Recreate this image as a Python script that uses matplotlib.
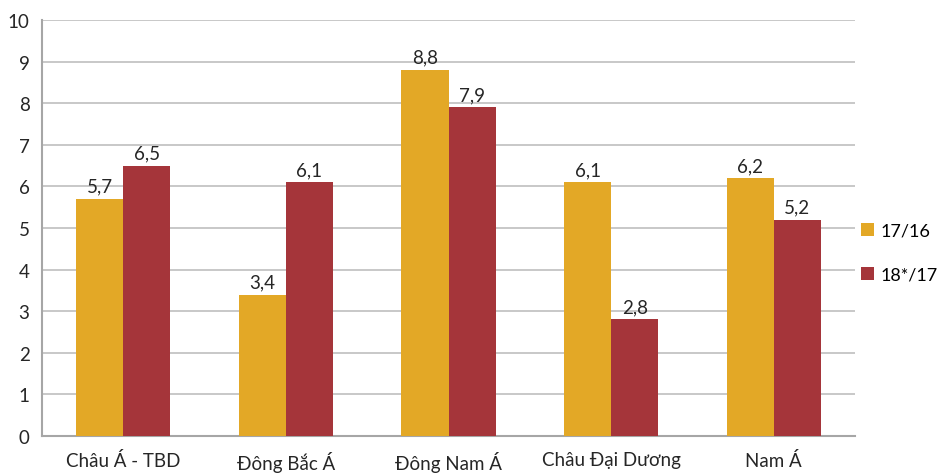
import matplotlib
matplotlib.use("Agg")
import matplotlib.pyplot as plt
import numpy as np

plt.rcParams['font.family'] = ['Lato', 'DejaVu Sans']

categories = ["Châu Á - TBD", "Đông Bắc Á", "Đông Nam Á", "Châu Đại Dương", "Nam Á"]
s1_name = "17/16"
s2_name = "18*/17"
s1 = [5.7, 3.4, 8.8, 6.1, 6.2]
s2 = [6.5, 6.1, 7.9, 2.8, 5.2]

c1 = "#E3A826"
c2 = "#A5353A"

fig = plt.figure(figsize=(9.4, 4.77), dpi=100)
ax = fig.add_axes([0.0447, 0.084, 0.865, 0.872])

x = np.arange(len(categories))
w = 0.29
b1 = ax.bar(x - w/2, s1, w, color=c1, label=s1_name, zorder=3)
b2 = ax.bar(x + w/2, s2, w, color=c2, label=s2_name, zorder=3)

fs = 13.5
fmt = lambda v: f"{v:.1f}".replace(".", ",")
for bars, vals in ((b1, s1), (b2, s2)):
    for r, v in zip(bars, vals):
        ax.annotate(fmt(v), (r.get_x() + r.get_width()/2, v), xytext=(0, 3),
                    textcoords="offset points", ha="center", va="bottom",
                    fontsize=fs, color="#262626")

ax.set_xlim(-0.5, 4.5)
ax.set_ylim(0, 10)
ax.set_yticks(range(0, 11))
ax.set_xticks(x)
ax.set_xticklabels(categories)
ax.tick_params(axis='both', length=0, labelsize=fs, colors="#262626")
ax.tick_params(axis='x', pad=11)
ax.tick_params(axis='y', pad=9)
ax.yaxis.grid(True, color="#BFBFBF", linewidth=1.2, zorder=0)
for s in ("top", "right"):
    ax.spines[s].set_visible(False)
for s in ("left", "bottom"):
    ax.spines[s].set_color("#A6A6A6")
    ax.spines[s].set_linewidth(1.5)

ax.legend(loc="center left", bbox_to_anchor=(1.0, 0.44), frameon=False,
          fontsize=13, handlelength=0.75, handleheight=0.75, labelspacing=1.55,
          handletextpad=0.35, borderaxespad=0.0, borderpad=0.3)

fig.savefig("out.png", dpi=100)
